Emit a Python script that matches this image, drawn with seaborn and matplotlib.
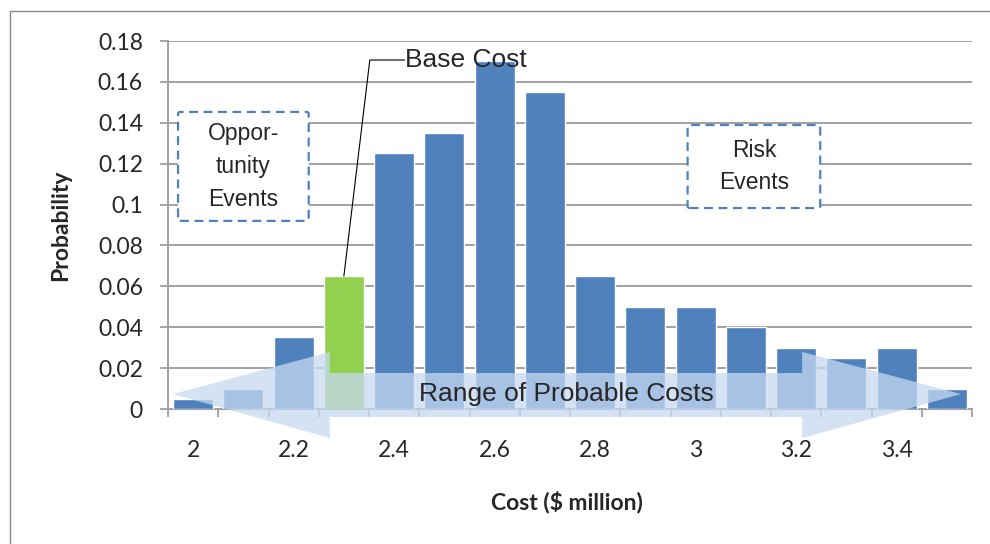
import numpy as np
import pandas as pd
import matplotlib
matplotlib.use("Agg")
import matplotlib.pyplot as plt
from matplotlib.patches import Polygon, FancyBboxPatch, Rectangle
import seaborn as sns

# Cost distribution (probability of each total cost outcome)
costs = ["2", "2.1", "2.2", "2.3", "2.4", "2.5", "2.6", "2.7",
         "2.8", "2.9", "3", "3.1", "3.2", "3.3", "3.4", "3.5"]
probs = [0.005, 0.010, 0.035, 0.065, 0.125, 0.135, 0.170, 0.155,
         0.065, 0.050, 0.050, 0.040, 0.030, 0.025, 0.030, 0.010]
base_cost = "2.3"
x_tick_labels = ["2", "2.2", "2.4", "2.6", "2.8", "3", "3.2", "3.4"]
y_ticks = [0, 0.02, 0.04, 0.06, 0.08, 0.10, 0.12, 0.14, 0.16, 0.18]

BLUE = "#4f81bd"
GREEN = "#92d050"
ARROW = "#c6d9f1"
GRID = "#a0a0a0"

sns.set_style("white")
plt.rcParams["font.family"] = ["Lato", "DejaVu Sans"]

df = pd.DataFrame({
    "cost": costs,
    "prob": probs,
    "kind": ["Base" if c == base_cost else "Other" for c in costs],
})

fig = plt.figure(figsize=(9.9, 5.44), dpi=100)
ax = fig.add_axes([168 / 990, 1 - 409 / 544, 804 / 990, 368 / 544])

sns.barplot(data=df, x="cost", y="prob", hue="kind", order=costs,
            palette={"Base": GREEN, "Other": BLUE}, dodge=False,
            width=0.8, saturation=1, errorbar=None, legend=False,
            zorder=3, ax=ax)

# Axes, ticks and grid
ax.set_xlim(-0.5, len(costs) - 0.5)
ax.set_ylim(0, 0.18)
ax.set_yticks(y_ticks)
ax.set_yticklabels(["%g" % v for v in y_ticks])
ax.set_xticks(np.arange(-0.5, len(costs), 1))
ax.set_xticklabels([])
ax.set_xticks(np.arange(0, len(costs) - 1, 2), minor=True)
ax.set_xticklabels(x_tick_labels, minor=True)
ax.tick_params(axis="x", which="major", length=6, width=1.3, color=GRID,
               direction="out", bottom=True)
ax.tick_params(axis="x", which="minor", length=0, pad=22, labelsize=16.5)
ax.tick_params(axis="y", length=6, width=1.3, color=GRID, direction="out",
               left=True, pad=12, labelsize=16.5)
ax.yaxis.grid(True, color=GRID, linewidth=1.4, zorder=0)
ax.xaxis.grid(False)
ax.set_axisbelow(True)
for side in ["top", "right"]:
    ax.spines[side].set_visible(False)
for side in ["left", "bottom"]:
    ax.spines[side].set_color(GRID)
    ax.spines[side].set_linewidth(1.4)

ax.set_xlabel("Cost ($ million)", fontsize=16.5, fontweight="bold")
ax.set_ylabel("Probability", fontsize=16.5, fontweight="bold")
ax.xaxis.set_label_coords(0.496, -0.253)
ax.xaxis.label.set_verticalalignment("center")
ax.yaxis.set_label_coords(-0.133, 0.5)
ax.yaxis.label.set_verticalalignment("center")

arial = ["Liberation Sans", "DejaVu Sans"]

# Double-headed arrow spanning the range of probable costs
arrow_pts = [(-0.40, 0.0073), (2.72, 0.0279), (2.72, 0.0176), (12.12, 0.0176),
             (12.12, 0.0279), (15.28, 0.0073), (12.12, -0.0142),
             (12.12, -0.0039), (2.72, -0.0039), (2.72, -0.0142)]
ax.add_patch(Polygon(arrow_pts, closed=True, facecolor=ARROW, edgecolor="none",
                     alpha=0.75, zorder=5, clip_on=False))
ax.text(7.43, 0.0073, "Range of Probable Costs", ha="center", va="center",
        fontsize=19, family=arial, zorder=6)

# Dashed callout boxes
for (x0, x1, y0, y1, label) in [(-0.30, 2.30, 0.0920, 0.1453, "Oppor-\ntunity\nEvents"),
                               (9.84, 12.48, 0.0983, 0.1389, "Risk\nEvents")]:
    ax.add_patch(FancyBboxPatch((x0, y0), x1 - x0, y1 - y0,
                                boxstyle="round,pad=0,rounding_size=0.04",
                                mutation_aspect=0.18 / 368 * 50.25,
                                facecolor="white", edgecolor=BLUE,
                                linewidth=1.6, linestyle=(0, (4, 2.5)),
                                zorder=4))
    ax.text((x0 + x1) / 2, (y0 + y1) / 2, label, ha="center", va="center",
            fontsize=16.5, family=arial, linespacing=1.55, zorder=6)

# Base cost callout
base_idx = costs.index(base_cost)
ax.plot([4.21, 3.516, base_idx], [0.1707, 0.1707, probs[base_idx]],
        color="black", linewidth=0.8, zorder=6, clip_on=False)
ax.text(4.21, 0.1707, "Base Cost", ha="left", va="center",
        fontsize=19, family=arial, zorder=6)

# Chart frame
fig.patches.append(Rectangle((10 / 990, -0.1), 1.2, 1 - 11 / 544 + 0.1,
                             transform=fig.transFigure, fill=False,
                             edgecolor="#8a8a8a", linewidth=1.0))

fig.savefig("out.png", dpi=100)
